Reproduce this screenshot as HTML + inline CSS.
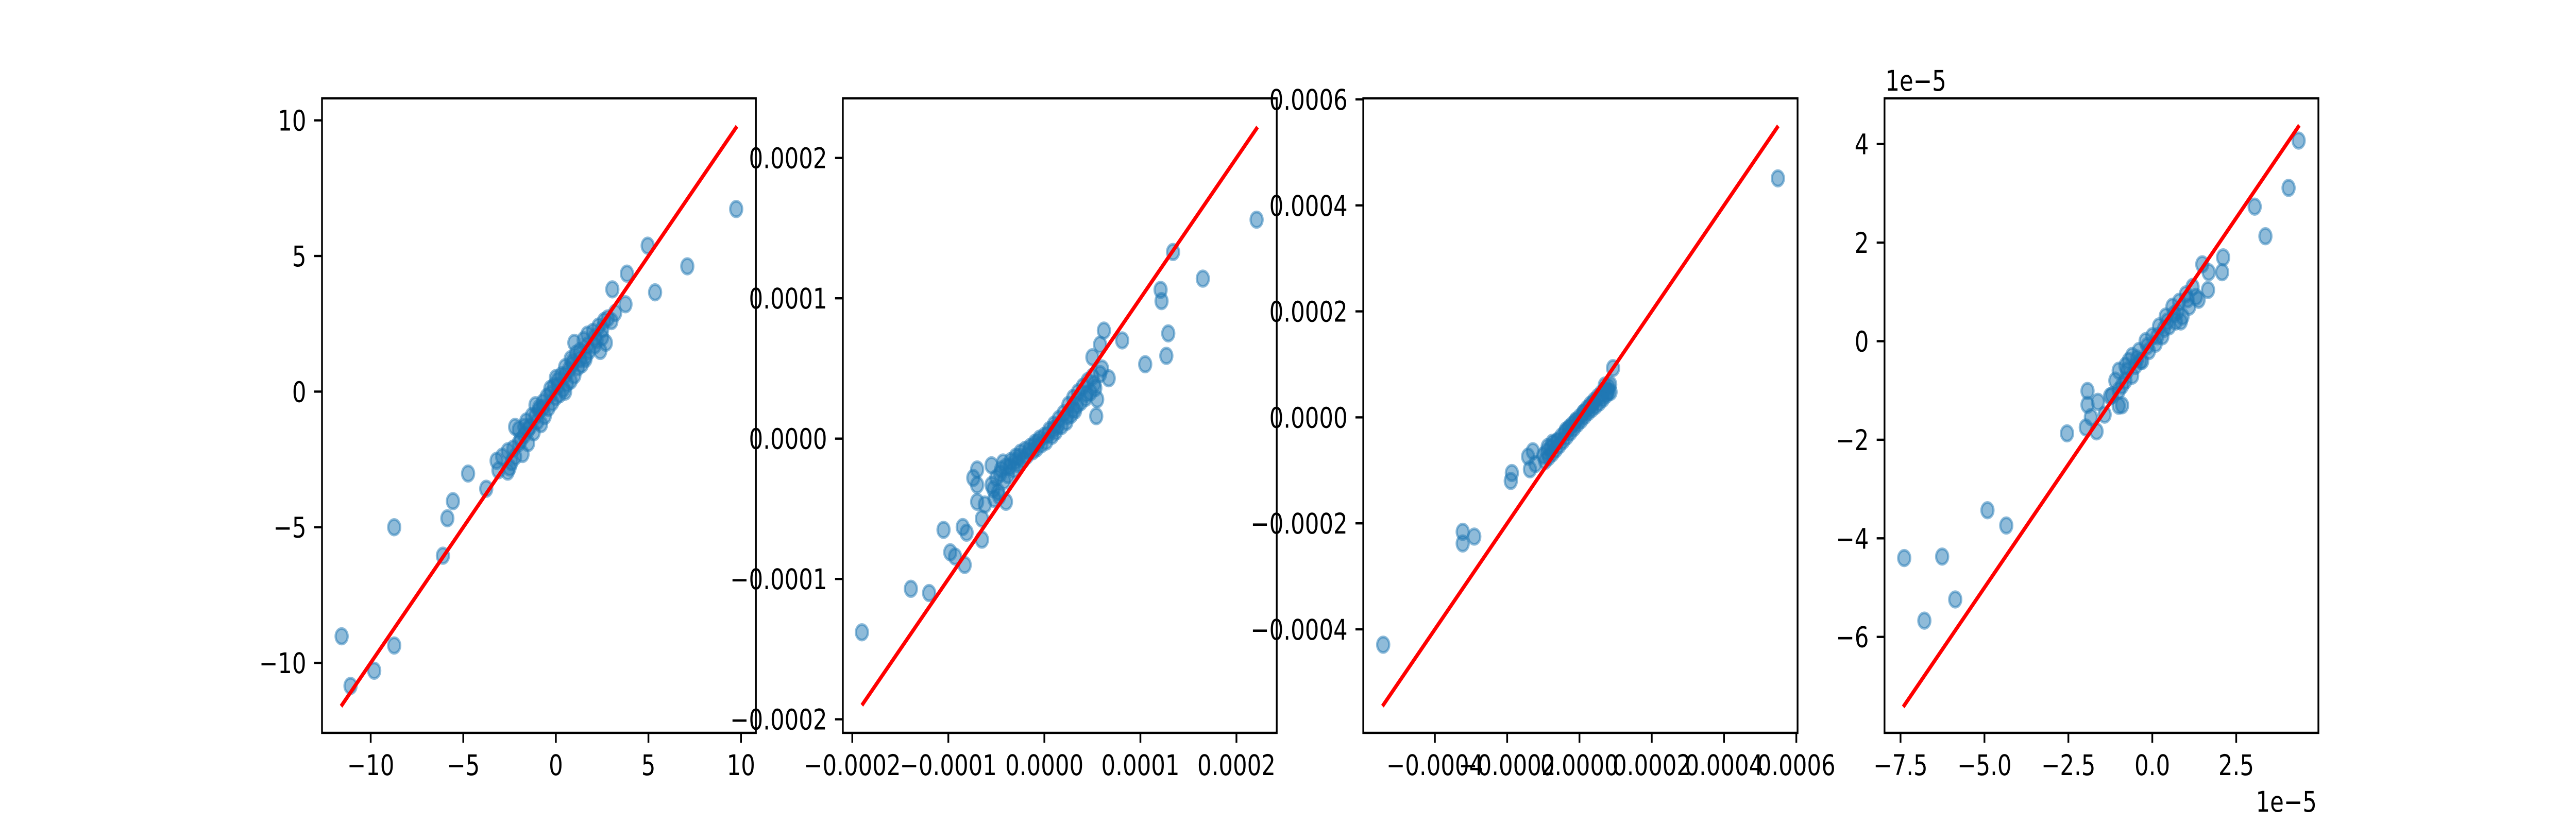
<!DOCTYPE html>
<html><head><meta charset="utf-8"><style>
html,body{margin:0;padding:0;background:#fff;overflow:hidden;width:100vw;height:100vh;}
svg{display:block;position:absolute;left:0;top:0;}
text{font-family:"DejaVu Sans","Liberation Sans",sans-serif;font-size:55.6px;fill:#000;}
</style></head><body>
<svg id="fig" width="100%" height="100%" viewBox="0 0 6400 1600" preserveAspectRatio="none" xmlns="http://www.w3.org/2000/svg"></svg>
<script>
// ---- data (panel 1 in raw units; panels 2,3,4 in units of 1e-5) ----
const p1X = [9.74,4.96,7.1,5.36,3.84,3.05,3.76,-4.74,-3.76,-5.56,-5.86,-8.73,-6.1,-11.57,-8.73,-9.81,-11.09,
 -3.2,-3.1,-2.9,-2.6,-2.6,-2.4,-2.2,-2.2,-2.0,-2.0,-1.8,-1.7,-1.6,-1.5,-1.4,-1.3,-1.2,-1.1,-1.0,-0.9,-0.8,-0.7,-0.6,-0.5,-0.4,-0.3,-0.2,-0.1,0,0.1,0.2,0.3,0.4,0.5,0.6,0.7,0.8,0.9,1.0,1.1,1.2,1.3,1.4,1.5,1.6,1.7,1.8,2.0,2.1,2.3,2.4,2.5,2.6,2.7,2.8,3.0,3.2,-2.5,0.5,1.0,
 -2.3,-1.9,-1.5,-1.1,-0.7,-0.3,0.1,0.5,0.9,1.3,1.7,2.1,2.5,-1.7,-0.9,0.0,0.8,1.6,2.2];
const p1Y = [6.73,5.38,4.62,3.66,4.35,3.77,3.22,-3.02,-3.58,-4.04,-4.67,-5.0,-6.05,-9.02,-9.36,-10.29,-10.85,
 -2.55,-2.9,-2.4,-2.95,-2.2,-2.6,-2.4,-1.3,-1.9,-1.4,-2.3,-1.6,-1.1,-1.9,-1.3,-0.9,-1.5,-0.5,-1.1,-0.7,-1.2,-0.4,-0.9,-0.2,-0.6,0.1,-0.4,0.2,-0.2,0.4,-0.1,0.6,0.1,0.9,0.3,0.8,0.4,1.1,0.6,1.4,0.9,1.5,1.0,1.9,1.3,2.1,1.5,2.2,1.7,2.4,1.5,2.0,2.6,1.8,2.7,2.6,2.9,-2.8,0.0,1.8,
 -2.1,-1.8,-1.4,-0.9,-0.6,-0.1,0.2,0.6,1.0,1.2,1.7,2.0,2.3,-1.3,-0.6,0.5,1.2,1.2,1.9];
const p2X = [22.1,13.4,16.5,12.1,12.2,12.9,12.7,10.5,8.1,6.2,5.8,5.0,6.7,5.4,-19.0,-13.9,-12.0,-10.5,-9.8,-9.3,-8.3,-8.5,-8.1,-6.5,-6.5,-7.0,-7.0,-7.4,-7.0,-5.5,-4.3,-5.3,-4.7,-6.2,
 -5.5,-5.0,-4.8,-4.5,-4.2,-4.0,-3.8,-3.5,-3.2,-3.0,-2.8,-2.5,-2.2,-2.0,-1.8,-1.5,-1.2,-1.0,-0.8,-0.5,-0.3,0,0.2,0.5,0.8,1.0,1.2,1.5,1.8,2.0,2.3,2.5,2.8,3.0,3.2,3.5,3.8,4.0,4.3,4.5,4.8,5.0,5.3,5.5,5.8,6.0,-4.0,-5.2,
 -4.6,-3.6,-2.6,-1.6,-0.6,0.4,1.4,2.4,3.4,4.4,5.2,-3.0,-1.0,1.0,3.0];
const p2Y = [15.6,13.3,11.4,10.6,9.8,7.5,5.9,5.3,7.0,7.7,6.7,5.8,4.3,1.6,-13.8,-10.7,-11.0,-6.5,-8.1,-8.4,-9.0,-6.3,-6.7,-7.2,-5.7,-4.5,-2.2,-2.8,-3.3,-1.9,-1.7,-3.6,-4.1,-4.7,
 -3.3,-2.8,-3.8,-2.2,-3.0,-2.0,-2.6,-1.6,-2.2,-1.3,-1.8,-1.0,-1.5,-0.8,-1.2,-0.6,-0.9,-0.3,-0.7,0,-0.4,0.2,-0.2,0.6,0.2,1.0,0.5,1.4,0.9,1.8,1.2,2.4,1.7,2.9,2.0,3.3,2.6,3.7,2.9,4.1,3.3,4.4,3.6,2.8,4.6,5.0,-4.5,-4.3,
 -2.5,-2.0,-1.3,-0.9,-0.2,0.3,0.9,1.6,2.4,3.2,3.9,-1.6,-0.5,0.7,2.1];
const p3X = [54.9,-54.3,-32.3,-32.3,-29.1,-18.7,-19.0,-13.7,-14.2,-12.9,-12.2,9.3,8.6,
 -10,-9.5,-9,-8.5,-8,-7.5,-7,-6.5,-6,-5.5,-5,-4.5,-4,-3.5,-3,-2.5,-2,-1.5,-1,-0.5,0,0.5,1,1.5,2,2.5,3,3.5,4,4.5,5,5.5,6,6.5,7,7.5,8,8.5,8,7,
 -8.8,-6.2,-3.8,-1.2,1.2,3.8,6.2,-7.5,-2.8,2.8,7.8];
const p3Y = [45.1,-42.9,-21.6,-23.8,-22.5,-10.5,-12.0,-9.8,-7.4,-6.4,-8.8,9.3,4.8,
 -7.2,-8.2,-6.5,-7.5,-5.8,-6.8,-5.0,-6.0,-4.4,-5.2,-3.6,-4.4,-2.9,-3.6,-2.2,-2.8,-1.4,-2.0,-0.6,-1.2,0,-0.5,0.8,0.3,1.6,1.0,2.4,1.6,3.1,2.2,3.8,2.8,4.5,3.5,5.2,4.3,5.8,6.2,4.8,6.0,
 -5.6,-4.6,-2.5,-0.9,0.9,2.6,3.9,-4.8,-1.9,1.9,5.0];
const p4X = [4.36,4.06,3.05,3.37,2.11,2.08,1.49,1.68,1.66,1.38,-7.39,-6.26,-6.79,-5.87,-4.91,-4.35,-2.54,-1.93,-1.93,-1.83,-1.98,-1.66,-1.62,-1.42,-1.26,-1.0,
 -1.1,-1.0,-1.0,-0.9,-0.8,-0.8,-0.7,-0.6,-0.6,-0.5,-0.4,-0.3,-0.2,-0.1,0,0.1,0.2,0.3,0.4,0.5,0.6,0.7,0.8,0.9,1.0,1.1,1.2,1.3,0.85,-0.9,-1.2,
 -0.75,-0.45,-0.15,0.15,0.45,0.75,1.05,-0.35,0.35,0.65];
const p4Y = [4.07,3.11,2.73,2.13,1.70,1.40,1.56,1.40,1.04,0.84,-4.40,-4.37,-5.67,-5.24,-3.43,-3.74,-1.87,-1.01,-1.29,-1.54,-1.75,-1.83,-1.23,-1.49,-1.12,-1.31,
 -0.8,-1.0,-0.6,-0.9,-0.5,-0.8,-0.4,-0.7,-0.3,-0.5,-0.2,-0.4,0,-0.2,0.1,-0.05,0.3,0.1,0.5,0.3,0.7,0.4,0.8,0.5,0.95,0.7,1.1,0.9,0.4,-1.3,-1.1,
 -0.6,-0.35,-0.1,0.1,0.4,0.6,0.85,-0.4,0.25,0.55];
const lineX = [[-11.6,9.78],[-19.0,22.2],[-54.5,55.0],[-7.42,4.38]];
const xTicks = [[-10,-5,0,5,10],[-20,-10,0,10,20],[-40,-20,0,20,40,60],[-7.5,-5,-2.5,0,2.5]];
const xTickLabels = [["−10","−5","0","5","10"],["−0.0002","−0.0001","0.0000","0.0001","0.0002"],["−0.0004","−0.0002","0.0000","0.0002","0.0004","0.0006"],["−7.5","−5.0","−2.5","0.0","2.5"]];
const yTicks = [[-10,-5,0,5,10],[-20,-10,0,10,20],[-40,-20,0,20,40,60],[-6,-4,-2,0,2,4]];
const yTickLabels = [["−10","−5","0","5","10"],["−0.0002","−0.0001","0.0000","0.0001","0.0002"],["−0.0004","−0.0002","0.0000","0.0002","0.0004","0.0006"],["−6","−4","−2","0","2","4"]];

// ---- layout (pixels) ----
const layout = [
 {l:800, r:1878, x0:1381, xs:46.0, y0:760.4, ys:52.67},
 {l:2094, r:3172, x0:2594.7, xs:23.86, y0:851.7, ys:27.25},
 {l:3387, r:4466, x0:3924.1, xs:8.98, y0:810.4, ys:10.29},
 {l:4682, r:5760, x0:5347.3, xs:83.4, y0:662.5, ys:95.7}
];
const TOP=191, BOT=1423;
const allX=[p1X,p2X,p3X,p4X], allY=[p1Y,p2Y,p3Y,p4Y];
const NS="http://www.w3.org/2000/svg";
const svg=document.getElementById('fig');
function mk(tag,attrs,parent){const e=document.createElementNS(NS,tag);for(const k in attrs)e.setAttribute(k,attrs[k]);(parent||svg).appendChild(e);return e;}

for(let p=0;p<4;p++){
  const L=layout[p];
  const sx=v=>L.x0+v*L.xs, sy=v=>L.y0-v*L.ys;
  const g=mk('g',{});
  
  
  const cp=mk('clipPath',{id:'cp'+p},g);
  mk('rect',{x:L.l,y:TOP,width:L.r-L.l,height:BOT-TOP},cp);
  const pts=mk('g',{'clip-path':'url(#cp'+p+')'},g);
  
  
  const X=allX[p],Y=allY[p];
  for(let i=0;i<X.length;i++){
    const c=mk('circle',{cx:sx(X[i]),cy:sy(Y[i]),r:15,fill:'#1f77b4','fill-opacity':0.5,stroke:'#1f77b4','stroke-opacity':0.5,'stroke-width':5.5},pts);
    
    
  }
  const ln=mk('line',{x1:sx(lineX[p][0]),y1:sy(lineX[p][0]),x2:sx(lineX[p][1]),y2:sy(lineX[p][1]),stroke:'#ff0000','stroke-width':8.3},g);
  
  
  const fr=mk('rect',{x:L.l,y:TOP,width:L.r-L.l,height:BOT-TOP,fill:'none',stroke:'#000','stroke-width':4.4},g);
  
  
  xTicks[p].forEach((t,i)=>{
    const x=sx(t);
    const tk=mk('line',{x1:x,y1:BOT,x2:x,y2:BOT+19.4,stroke:'#000','stroke-width':4.4},g);
    
    
    const tx=mk('text',{x:x,y:1505,'text-anchor':'middle'},g);
    tx.textContent=xTickLabels[p][i];
    
    
  });
  yTicks[p].forEach((t,i)=>{
    const y=sy(t);
    if(y<TOP-2||y>BOT+2)return;
    const tk=mk('line',{x1:L.l-19.4,y1:y,x2:L.l,y2:y,stroke:'#000','stroke-width':4.4},g);
    
    
    const tx=mk('text',{x:L.l-39,y:y+20,'text-anchor':'end'},g);
    tx.textContent=yTickLabels[p][i];
    
    
  });
}
const o1=mk('text',{x:4684,y:176});
o1.textContent='1e−5';


const o2=mk('text',{x:5756,y:1576,'text-anchor':'end'});
o2.textContent='1e−5';


</script>
</body></html>
